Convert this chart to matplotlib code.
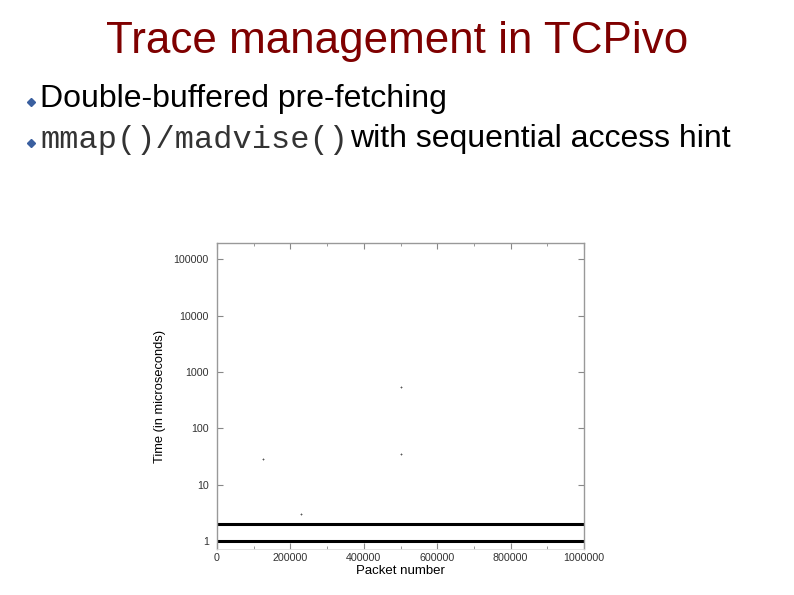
import matplotlib
matplotlib.use("Agg")
import matplotlib.pyplot as plt
from matplotlib.lines import Line2D

# Slide text
title = "Trace management in TCPivo"
bullet1 = "Double-buffered pre-fetching"
bullet2_code = "mmap()/madvise()"
bullet2_rest = "with sequential access hint"

# Chart data
packet_range = [0, 1000000]
level_low = [1, 1]
level_high = [2, 2]
outlier_x = [125000, 228000, 500000, 500000]
outlier_y = [28, 3, 35, 550]

x_ticks = [0, 200000, 400000, 600000, 800000, 1000000]
x_minor = [100000, 300000, 500000, 700000, 900000]
y_ticks = [1, 10, 100, 1000, 10000, 100000]

fig = plt.figure(figsize=(7.94, 5.95), dpi=100)
fig.patch.set_facecolor("white")

# Title and bullets
fig.text(0.5, 1 - 41 / 595, title, ha="center", va="center",
         fontsize=31.7, color="#7f0000", family="Liberation Sans")
fig.text(40 / 794, 1 - 99 / 595, bullet1, ha="left", va="center",
         fontsize=23, color="black", family="Liberation Sans")
fig.text(40 / 794, 1 - 140 / 595, bullet2_code, ha="left", va="center",
         fontsize=23, color="#333333", family="Liberation Mono")
fig.text(350 / 794, 1 - 139 / 595, bullet2_rest, ha="left", va="center",
         fontsize=23, color="black", family="Liberation Sans")
for by in [102, 143]:
    fig.add_artist(Line2D([31 / 794], [1 - by / 595], marker="D", markersize=4,
                          color="#3a5f9f", transform=fig.transFigure))

# Chart
ax = fig.add_axes([217 / 794, 1 - 549 / 595, 367 / 794, 306 / 595])
ax.plot(packet_range, level_low, color="black", linewidth=2.2)
ax.plot(packet_range, level_high, color="black", linewidth=2.2)
ax.plot(outlier_x, outlier_y, linestyle="none", marker="+", markersize=2,
        color="#555555", markeredgewidth=0.6)

ax.set_yscale("log")
ax.set_xlim(0, 1000000)
ax.set_ylim(0.72, 195000)
ax.set_xticks(x_ticks)
ax.set_xticklabels([str(v) for v in x_ticks])
ax.set_xticks(x_minor, minor=True)
ax.set_yticks(y_ticks)
ax.set_yticklabels([str(v) for v in y_ticks])
ax.yaxis.set_minor_locator(matplotlib.ticker.NullLocator())

ax.tick_params(which="both", direction="in", top=True, right=True,
               labelsize=7.7, colors="#888888", labelcolor="#333333")
ax.tick_params(axis="x", pad=3)
ax.tick_params(axis="y", pad=6)
ax.tick_params(which="major", length=4)
ax.tick_params(which="minor", length=2)
for label in ax.get_xticklabels() + ax.get_yticklabels():
    label.set_family("Liberation Sans")

for side in ["left", "right", "top"]:
    ax.spines[side].set_color("#999999")
    ax.spines[side].set_linewidth(1.0)
ax.spines["bottom"].set_color("#dddddd")
ax.spines["bottom"].set_linewidth(0.6)

ax.set_xlabel("Packet number", fontsize=9.5, family="Liberation Sans", labelpad=1)
ax.set_ylabel("Time (in microseconds)", fontsize=9.3, family="Liberation Sans", labelpad=5)

fig.savefig("out.png", dpi=100)
